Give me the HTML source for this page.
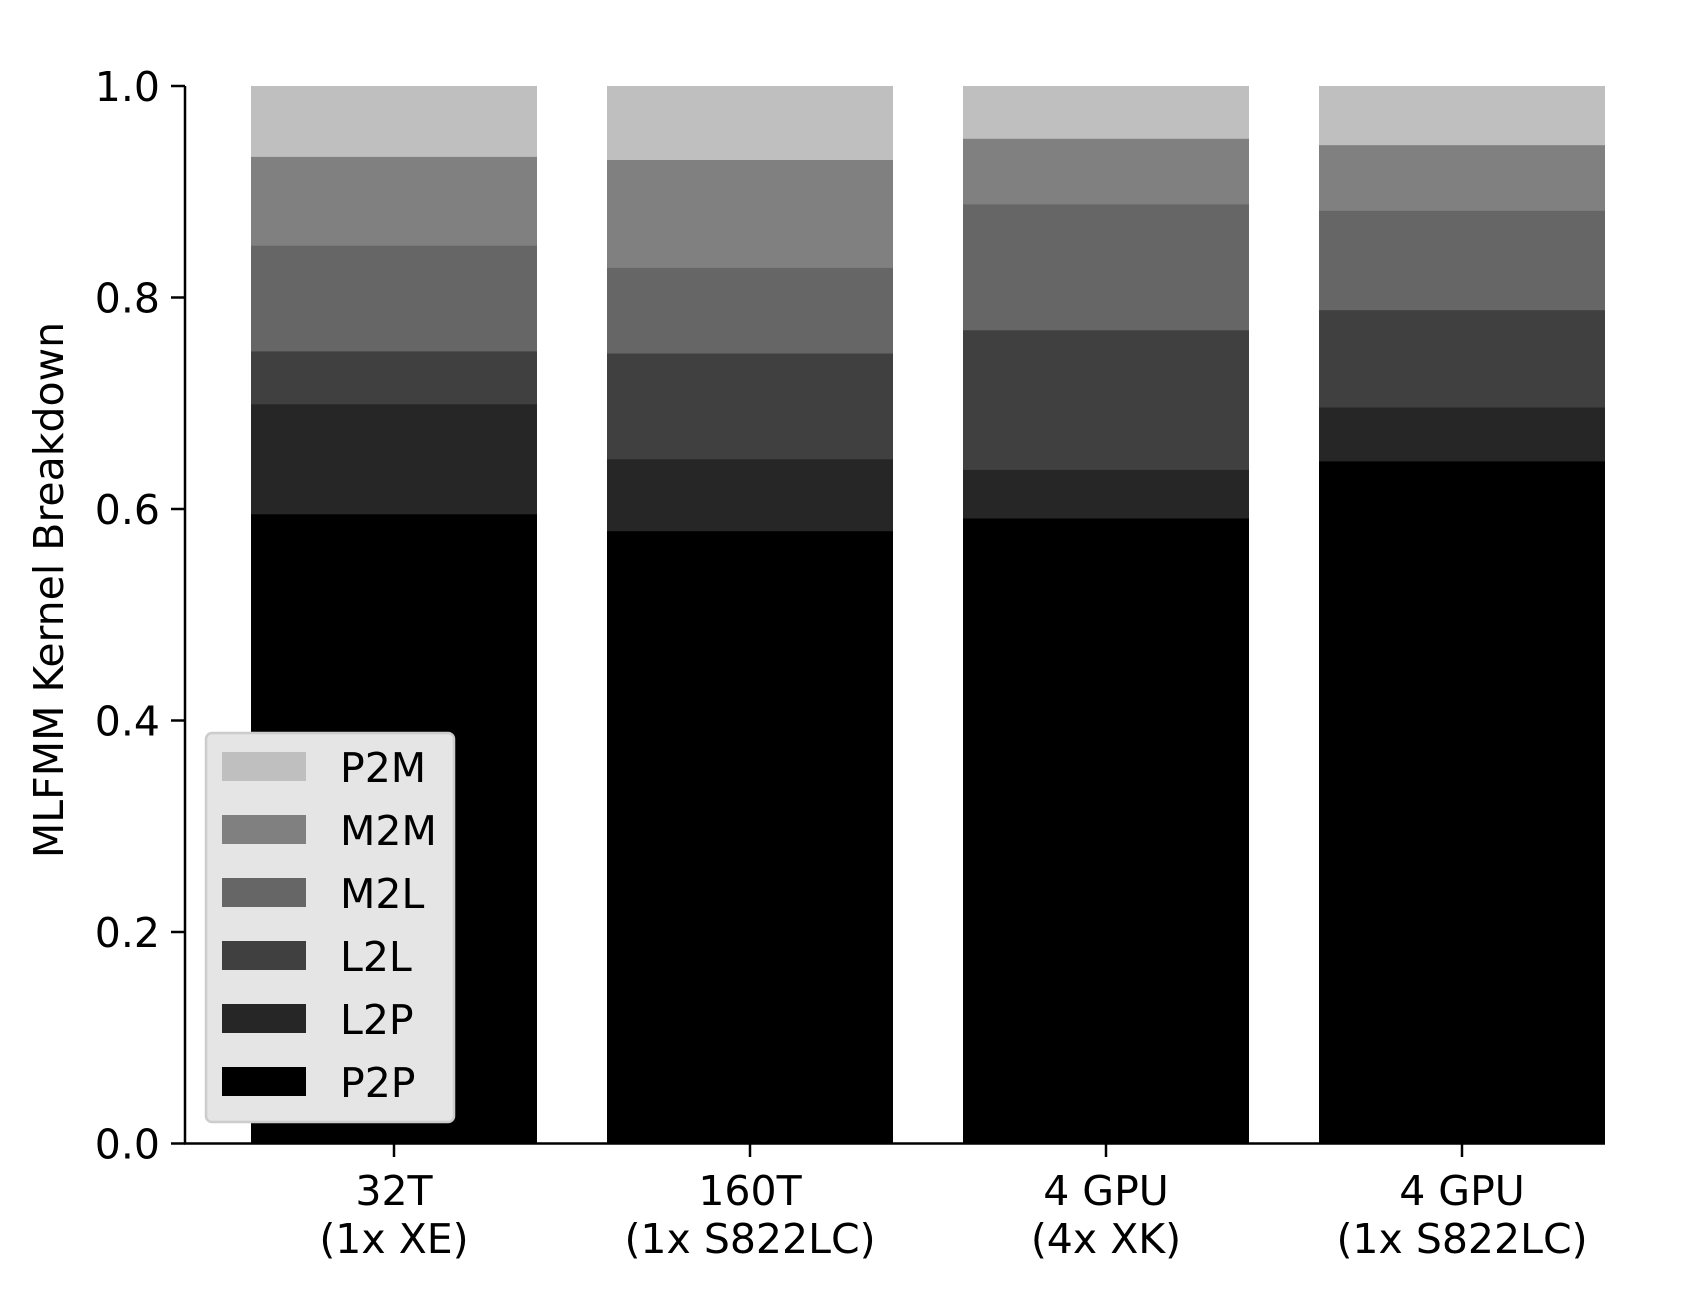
<!DOCTYPE html>
<html><head><meta charset="utf-8"><style>html,body{margin:0;padding:0;background:#fff}svg{display:block}</style></head>
<body>
<svg width="1705" height="1292" viewBox="0 0 1705 1292" xmlns="http://www.w3.org/2000/svg" font-family="'DejaVu Sans','Liberation Sans',sans-serif">
<rect width="1705" height="1292" fill="#fff"/>
<g>
<rect x="251" y="86" width="286" height="1057.5" fill="#bfbfbf"/>
<rect x="251" y="156.9" width="286" height="986.6" fill="#808080"/>
<rect x="251" y="245.7" width="286" height="897.8" fill="#666666"/>
<rect x="251" y="351.4" width="286" height="792.1" fill="#404040"/>
<rect x="251" y="404.3" width="286" height="739.2" fill="#262626"/>
<rect x="251" y="514.3" width="286" height="629.2" fill="#000000"/>

<rect x="607" y="86" width="286" height="1057.5" fill="#bfbfbf"/>
<rect x="607" y="160" width="286" height="983.5" fill="#808080"/>
<rect x="607" y="267.9" width="286" height="875.6" fill="#666666"/>
<rect x="607" y="353.5" width="286" height="790" fill="#404040"/>
<rect x="607" y="459.3" width="286" height="684.2" fill="#262626"/>
<rect x="607" y="531.2" width="286" height="612.3" fill="#000000"/>

<rect x="963" y="86" width="286" height="1057.5" fill="#bfbfbf"/>
<rect x="963" y="138.8" width="286" height="1004.7" fill="#808080"/>
<rect x="963" y="204.4" width="286" height="939.1" fill="#666666"/>
<rect x="963" y="330.3" width="286" height="813.2" fill="#404040"/>
<rect x="963" y="469.9" width="286" height="673.6" fill="#262626"/>
<rect x="963" y="518.5" width="286" height="625" fill="#000000"/>

<rect x="1319" y="86" width="286" height="1057.5" fill="#bfbfbf"/>
<rect x="1319" y="145.2" width="286" height="998.3" fill="#808080"/>
<rect x="1319" y="210.8" width="286" height="932.7" fill="#666666"/>
<rect x="1319" y="310.2" width="286" height="833.3" fill="#404040"/>
<rect x="1319" y="407.5" width="286" height="736" fill="#262626"/>
<rect x="1319" y="461.4" width="286" height="682.1" fill="#000000"/>
</g>
<g stroke="#000" stroke-width="2.5" fill="none">
<line x1="185" y1="86" x2="185" y2="1144.5"/>
<line x1="184" y1="1143.5" x2="1605" y2="1143.5"/>
<line x1="171" y1="86" x2="185" y2="86"/>
<line x1="171" y1="297.5" x2="185" y2="297.5"/>
<line x1="171" y1="509" x2="185" y2="509"/>
<line x1="171" y1="720.5" x2="185" y2="720.5"/>
<line x1="171" y1="932" x2="185" y2="932"/>
<line x1="171" y1="1143.5" x2="185" y2="1143.5"/>
<line x1="394" y1="1143.5" x2="394" y2="1157"/>
<line x1="750" y1="1143.5" x2="750" y2="1157"/>
<line x1="1106" y1="1143.5" x2="1106" y2="1157"/>
<line x1="1462" y1="1143.5" x2="1462" y2="1157"/>
</g>
<g font-size="41" text-anchor="end" fill="#000">
<text x="160" y="101">1.0</text>
<text x="160" y="312.5">0.8</text>
<text x="160" y="524">0.6</text>
<text x="160" y="735.5">0.4</text>
<text x="160" y="947">0.2</text>
<text x="160" y="1158.5">0.0</text>
</g>
<g font-size="41" text-anchor="middle" fill="#000">
<text x="394" y="1205">32T</text><text x="394" y="1253">(1x XE)</text>
<text x="750" y="1205">160T</text><text x="750" y="1253">(1x S822LC)</text>
<text x="1106" y="1205">4 GPU</text><text x="1106" y="1253">(4x XK)</text>
<text x="1462" y="1205">4 GPU</text><text x="1462" y="1253">(1x S822LC)</text>
</g>
<text transform="translate(63,590) rotate(-90)" font-size="41" text-anchor="middle">MLFMM Kernel Breakdown</text>
<rect x="206" y="733" width="248" height="389" rx="6" fill="#e5e5e5" stroke="#cccccc" stroke-width="2.5"/>
<g>
<rect x="222" y="752" width="84" height="29" fill="#bfbfbf"/>
<rect x="222" y="815" width="84" height="29" fill="#808080"/>
<rect x="222" y="878" width="84" height="29" fill="#666666"/>
<rect x="222" y="941" width="84" height="29" fill="#404040"/>
<rect x="222" y="1004" width="84" height="29" fill="#262626"/>
<rect x="222" y="1067" width="84" height="29" fill="#000000"/>
</g>
<g font-size="41" fill="#000">
<text x="340" y="782">P2M</text>
<text x="340" y="845">M2M</text>
<text x="340" y="908">M2L</text>
<text x="340" y="971">L2L</text>
<text x="340" y="1034">L2P</text>
<text x="340" y="1097">P2P</text>
</g>
</svg>
</body></html>
